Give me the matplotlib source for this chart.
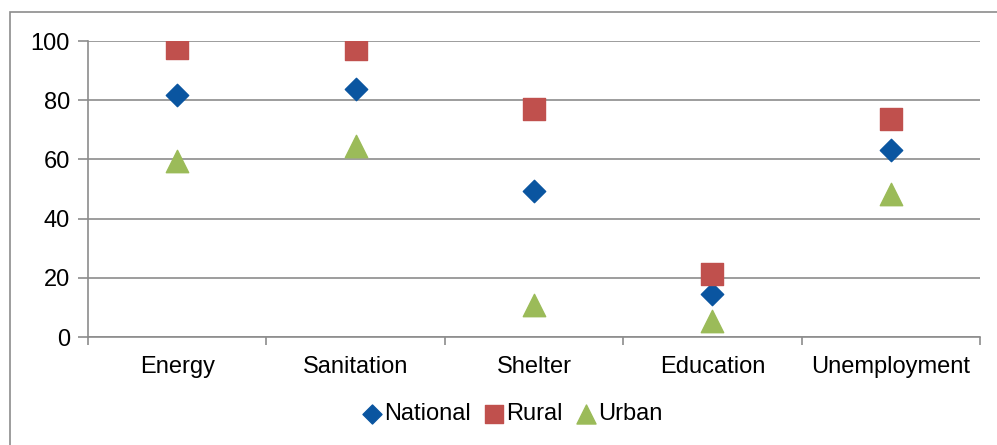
import numpy as np
import matplotlib.pyplot as plt
from matplotlib.patches import Rectangle

plt.rcParams['font.family'] = ['Liberation Sans', 'DejaVu Sans']

# Data
categories = ["Energy", "Sanitation", "Shelter", "Education", "Unemployment"]
national = [81.7, 83.7, 49.2, 14.4, 63.1]
rural = [97.6, 97.3, 77.0, 21.2, 73.7]
urban = [59.6, 64.4, 10.8, 5.3, 48.3]

fig = plt.figure(figsize=(9.97, 4.45), dpi=100)
fig.patches.append(Rectangle((10 / 997, -0.1), 1.2, (445 - 12) / 445 + 0.1,
                             transform=fig.transFigure, fill=False,
                             edgecolor='#8c8c8c', linewidth=1.2))
ax = fig.add_axes([88 / 997, (445 - 337) / 445, (980 - 88) / 997, (337 - 41) / 445])

x = np.arange(len(categories))
ax.scatter(x, national, marker='D', s=130, color='#0a55a0', label='National', zorder=3)
ax.scatter(x, rural, marker='s', s=230, color='#c0504d', label='Rural', zorder=3)
ax.scatter(x, urban, marker='^', s=260, color='#9bbb59', label='Urban', zorder=3)

ax.set_xlim(-0.5, len(categories) - 0.5)
ax.set_ylim(0, 100)
ax.set_yticks(range(0, 101, 20))
ax.yaxis.grid(True, color='#8c8c8c', linewidth=1.2)
ax.set_axisbelow(True)

ax.set_xticks(x)
ax.set_xticklabels(categories)
ax.tick_params(axis='x', which='major', length=0, pad=14, labelsize=17)
ax.set_xticks(np.arange(-0.5, len(categories), 1), minor=True)
ax.tick_params(axis='x', which='minor', length=6, width=1.2, color='#8c8c8c', direction='out')
ax.tick_params(axis='y', length=7, width=1.2, color='#8c8c8c', pad=6, labelsize=17)

for side in ['top', 'right']:
    ax.spines[side].set_visible(False)
for side in ['left', 'bottom']:
    ax.spines[side].set_color('#8c8c8c')
    ax.spines[side].set_linewidth(1.2)

# legend sits a little left of centre in the reference
ax.legend(loc='center', bbox_to_anchor=((512 - 88) / 892, (337 - 414) / 296),
          ncol=3, frameon=False, fontsize=17, handlelength=0.9,
          handletextpad=0.05, columnspacing=0.55, markerscale=0.85,
          borderaxespad=0)

fig.savefig('out.png', dpi=100)
